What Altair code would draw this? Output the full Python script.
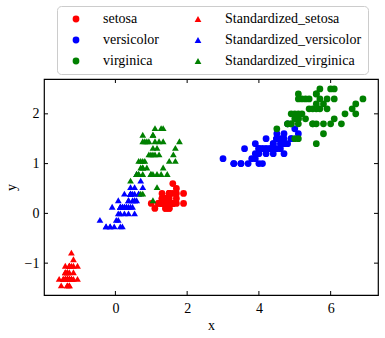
import altair as alt
import numpy as np
import pandas as pd

# Petal length / width values per species
setosa_x = [1.4,1.4,1.3,1.5,1.4,1.7,1.4,1.5,1.4,1.5,1.5,1.6,1.4,1.1,1.2,1.5,1.3,1.4,1.7,1.5,
            1.7,1.5,1.0,1.7,1.9,1.6,1.6,1.5,1.4,1.6,1.6,1.5,1.5,1.4,1.5,1.2,1.3,1.4,1.3,1.5,
            1.3,1.3,1.3,1.6,1.9,1.4,1.6,1.4,1.5,1.4]
setosa_y = [0.2,0.2,0.2,0.2,0.2,0.4,0.3,0.2,0.2,0.1,0.2,0.2,0.1,0.1,0.2,0.4,0.4,0.3,0.3,0.3,
            0.2,0.4,0.2,0.5,0.2,0.2,0.4,0.2,0.2,0.2,0.2,0.4,0.1,0.2,0.2,0.2,0.2,0.1,0.2,0.2,
            0.3,0.3,0.2,0.6,0.4,0.3,0.2,0.2,0.2,0.2]
versicolor_x = [4.7,4.5,4.9,4.0,4.6,4.5,4.7,3.3,4.6,3.9,3.5,4.2,4.0,4.7,3.6,4.4,4.5,4.1,4.5,3.9,
                4.8,4.0,4.9,4.7,4.3,4.4,4.8,5.0,4.5,3.5,3.8,3.7,3.9,5.1,4.5,4.5,4.7,4.4,4.1,4.0,
                4.4,4.6,4.0,3.3,4.2,4.2,4.2,4.3,3.0,4.1]
versicolor_y = [1.4,1.5,1.5,1.3,1.5,1.3,1.6,1.0,1.3,1.4,1.0,1.5,1.0,1.4,1.3,1.4,1.5,1.0,1.5,1.1,
                1.8,1.3,1.5,1.2,1.3,1.4,1.4,1.7,1.5,1.0,1.1,1.0,1.2,1.6,1.5,1.6,1.5,1.3,1.3,1.3,
                1.2,1.4,1.2,1.0,1.3,1.2,1.3,1.3,1.1,1.3]
virginica_x = [6.0,5.1,5.9,5.6,5.8,6.6,4.5,6.3,5.8,6.1,5.1,5.3,5.5,5.0,5.1,5.3,5.5,6.7,6.9,5.0,
               5.7,4.9,6.7,4.9,5.7,6.0,4.8,4.9,5.6,5.8,6.1,6.4,5.6,5.1,5.6,6.1,5.6,5.5,4.8,5.4,
               5.6,5.1,5.1,5.9,5.7,5.2,5.0,5.2,5.4,5.1]
virginica_y = [2.5,1.9,2.1,1.8,2.2,2.1,1.7,1.8,1.8,2.5,2.0,1.9,2.1,2.0,2.4,2.3,1.8,2.2,2.3,1.5,
               2.3,2.0,2.0,1.8,2.1,1.8,1.8,1.8,2.1,1.6,1.9,2.0,2.2,1.5,1.4,2.3,2.4,1.8,1.8,2.1,
               2.4,2.3,1.9,2.3,2.5,2.3,1.9,2.0,2.3,1.8]

species = ["setosa", "versicolor", "virginica"]
colors = ["#ff0000", "#0000ff", "#008000"]
x_ticks = [0, 2, 4, 6]
y_ticks = [-1, 0, 1, 2]

raw = {"setosa": (setosa_x, setosa_y),
       "versicolor": (versicolor_x, versicolor_y),
       "virginica": (virginica_x, virginica_y)}

all_x = np.array(setosa_x + versicolor_x + virginica_x)
all_y = np.array(setosa_y + versicolor_y + virginica_y)
mx, sx = all_x.mean(), all_x.std()
my, sy = all_y.mean(), all_y.std()

rows = []
for s in species:
    xs, ys = raw[s]
    for a, b in zip(xs, ys):
        rows.append({"x": a, "y": b, "label": s})
for s in species:
    xs, ys = raw[s]
    for a, b in zip(xs, ys):
        rows.append({"x": (a - mx) / sx, "y": (b - my) / sy, "label": "Standardized_" + s})
df = pd.DataFrame(rows)

legend_order = species + ["Standardized_" + s for s in species]
color_range = colors + colors
shape_range = ["circle"] * 3 + ["triangle-up"] * 3
size_range = [46] * 3 + [62] * 3

W, H = 334, 216
FONT = "Liberation Serif"
xscale = alt.Scale(domain=[-1.99, 7.32], nice=False, zero=False)
yscale = alt.Scale(domain=[-1.64, 2.70], nice=False, zero=False)
xaxis = alt.Axis(values=x_ticks, tickSize=0, labelPadding=6, grid=False,
                 domain=False, titlePadding=3, format="d")
yaxis = alt.Axis(values=y_ticks, tickSize=0, labelPadding=5, grid=False,
                 domain=False, titlePadding=6, format="d")

points = alt.Chart(df).mark_point(filled=True, opacity=1).encode(
    x=alt.X("x:Q", scale=xscale, title="x", axis=xaxis),
    y=alt.Y("y:Q", scale=yscale, title="y", axis=yaxis),
    color=alt.Color("label:N", scale=alt.Scale(domain=legend_order, range=color_range),
                    legend=alt.Legend(title=None, orient="none", legendX=13, legendY=-73,
                                      columns=2, columnPadding=26, rowPadding=7,
                                      padding=6, labelOffset=20, symbolOffset=6,
                                      symbolSize=36,
                                      strokeColor="#cccccc", fillColor="white",
                                      cornerRadius=4, labelFont=FONT, labelFontSize=14,
                                      labelColor="black", labelLimit=300)),
    shape=alt.Shape("label:N", scale=alt.Scale(domain=legend_order, range=shape_range)),
    size=alt.Size("label:N", scale=alt.Scale(domain=legend_order, range=size_range),
                  legend=None),
)

xt = pd.DataFrame({"x": x_ticks})
yt = pd.DataFrame({"y": y_ticks})
TL = 4
xb = alt.Chart(xt).mark_rule(color="black").encode(
    x=alt.X("x:Q", scale=xscale, title="x", axis=xaxis), y=alt.value(H), y2=alt.value(H - TL))
xtop = alt.Chart(xt).mark_rule(color="black").encode(
    x=alt.X("x:Q", scale=xscale, title="x", axis=xaxis), y=alt.value(0), y2=alt.value(TL))
yl = alt.Chart(yt).mark_rule(color="black").encode(
    y=alt.Y("y:Q", scale=yscale, title="y", axis=yaxis), x=alt.value(0), x2=alt.value(TL))
yr = alt.Chart(yt).mark_rule(color="black").encode(
    y=alt.Y("y:Q", scale=yscale, title="y", axis=yaxis), x=alt.value(W), x2=alt.value(W - TL))

chart = alt.layer(points, xb, xtop, yl, yr).properties(
    width=W, height=H,
    autosize=alt.AutoSizeParams(type="none"),
    padding={"left": 44, "top": 79, "right": 7, "bottom": 43},
).configure_view(stroke="black", strokeWidth=1.2).configure_axis(
    labelFont=FONT, labelFontSize=14, labelColor="black",
    titleFont=FONT, titleFontSize=14, titleColor="black", titleFontWeight="normal",
)

chart.save("out.html", embed_options={"renderer": "svg", "actions": False})
